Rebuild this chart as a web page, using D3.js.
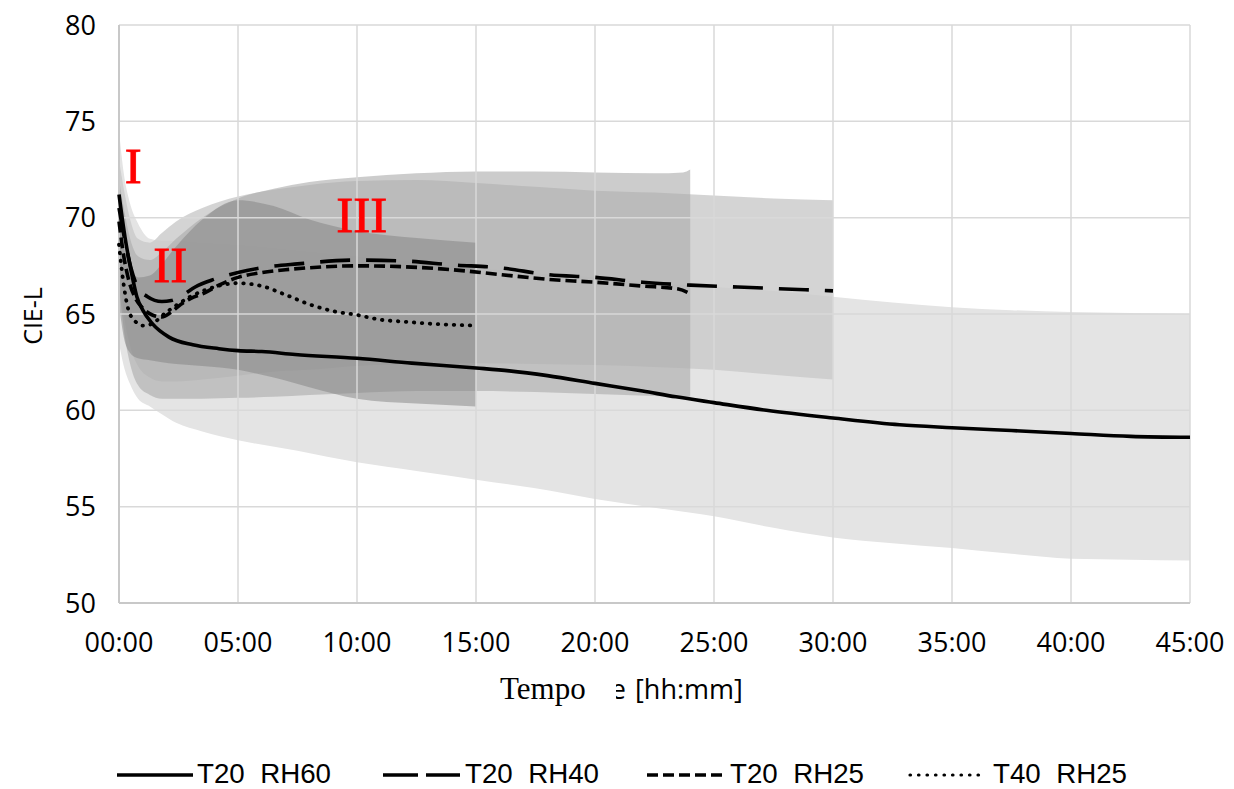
<!DOCTYPE html>
<html>
<head>
<meta charset="utf-8">
<script src="https://cdn.jsdelivr.net/npm/d3@7"></script>
<style>
  html, body { margin: 0; padding: 0; background: #fff; }
  svg { display: block; }
</style>
</head>
<body>
<svg id="chart" width="1234" height="789"></svg>
<script>
// ---- data -------------------------------------------------------------
const seriesNames = ["T20  RH60", "T20  RH40", "T20  RH25", "T40  RH25"];

const xTicks = [0, 5, 10, 15, 20, 25, 30, 35, 40, 45];
const xTickLabels = ["00:00", "05:00", "10:00", "15:00", "20:00", "25:00", "30:00", "35:00", "40:00", "45:00"];
const yTicks = [50, 55, 60, 65, 70, 75, 80];

// mean CIE-L curves: [hours, L]
const meanT20RH60 = [[0,71.2],[0.25,69.0],[0.5,67.3],[0.75,65.9],[1,65.2],[1.4,64.5],[2.1,63.8],[3.1,63.4],[4.2,63.2],[5,63.1],[6,63.05],[7.4,62.9],[10,62.7],[12.3,62.45],[15,62.2],[16.4,62.05],[18,61.8],[20,61.4],[22,61.0],[23.4,60.7],[25,60.4],[27.2,60.0],[30,59.6],[32.8,59.25],[35,59.1],[37.5,58.95],[40,58.8],[42.5,58.65],[45,58.6]];
const meanT20RH40 = [[0,70.5],[0.25,68.8],[0.5,67.4],[0.8,66.35],[1.2,65.9],[1.8,65.65],[2.2,65.7],[2.7,66.0],[3.2,66.4],[4,66.8],[5,67.15],[6,67.4],[7.5,67.6],[10,67.8],[12,67.75],[14,67.55],[16,67.4],[18,67.05],[20,66.9],[22,66.65],[24,66.5],[26,66.4],[28,66.3],[30,66.2]];
const meanT20RH25 = [[0,69.8],[0.2,68.0],[0.4,66.8],[0.7,65.8],[1,65.3],[1.4,64.95],[1.8,64.85],[2.2,65.1],[2.6,65.5],[3,65.8],[3.6,66.1],[4.2,66.5],[5,66.9],[6,67.15],[7,67.3],[8,67.4],[10,67.5],[12,67.45],[14,67.3],[16,67.05],[18,66.8],[20,66.65],[22,66.45],[23.5,66.3],[24,66.05]];
const meanT40RH25 = [[0,68.6],[0.2,66.5],[0.4,65.2],[0.7,64.6],[1,64.4],[1.3,64.45],[2,65.1],[3,65.9],[4,66.4],[5,66.6],[6,66.45],[7,66.0],[8,65.5],[9,65.15],[10,64.95],[11,64.7],[12,64.6],[13,64.5],[15,64.4]];

// spread bands: [hours, lower, upper]
const bandT20RH60 = [[0,63.5,74.5],[0.2,62.3,72.3],[0.45,61.4,70.8],[0.8,60.6,69.7],[1.3,60.2,68.9],[1.8,59.8,68.8],[2.4,59.35,68.8],[3.5,58.9,68.7],[5,58.45,68.6],[7.5,57.9,68.3],[10,57.3,68.0],[12.5,56.85,67.7],[15,56.4,67.4],[17.5,55.95,67.1],[20,55.4,66.9],[22.5,54.95,66.6],[25,54.5,66.4],[27.5,53.9,66.2],[30,53.4,65.9],[32.5,53.1,65.6],[35,52.85,65.35],[37.5,52.55,65.2],[40,52.3,65.1],[42.5,52.25,65.05],[45,52.2,65.0]];
const bandT20RH40 = [[0,67.5,73.0],[0.2,65.0,71.5],[0.45,63.4,70.0],[0.8,62.3,68.9],[1.3,61.7,68.7],[1.8,61.5,69.2],[2.4,61.5,69.8],[3.5,61.6,70.5],[5,61.8,71.1],[6.5,62.0,71.45],[8,62.1,71.7],[10,62.3,71.9],[12.5,62.4,71.95],[15,62.45,71.8],[17.5,62.4,71.6],[20,62.35,71.4],[22.5,62.25,71.3],[25,62.1,71.15],[27.5,61.85,71.0],[30,61.6,70.9]];
const bandT20RH25 = [[0,66.5,72.0],[0.2,64.2,70.5],[0.45,62.5,69.0],[0.8,61.3,68.0],[1.3,60.8,67.8],[1.8,60.6,68.2],[2.4,60.6,68.9],[3.5,60.6,70.0],[5,60.65,71.0],[6.5,60.7,71.5],[8,60.8,71.85],[10,60.9,72.1],[12.5,61.0,72.3],[15,61.0,72.4],[17.5,60.95,72.4],[20,60.85,72.35],[22.5,60.75,72.3],[23.7,60.7,72.35],[24,60.7,72.5]];
const bandT40RH25 = [[0,65.5,70.0],[0.2,63.8,68.5],[0.45,63.0,67.5],[0.8,62.7,66.9],[1.3,62.6,67.0],[1.8,62.5,67.6],[2.4,62.4,68.5],[3.5,62.3,69.9],[5,62.1,70.9],[6.5,61.7,70.6],[8,61.2,69.9],[10,60.6,69.3],[12.5,60.35,68.95],[15,60.2,68.7]];

// ---- layout -----------------------------------------------------------
const svg = d3.select("#chart");
const x = d3.scaleLinear().domain([0, 45]).range([119, 1190]);
const y = d3.scaleLinear().domain([50, 80]).range([603, 25]);

const bands = [
  { data: bandT20RH60, fill: "rgb(228,228,228)", opacity: 1 },
  { data: bandT20RH40, fill: "rgb(201,201,201)", opacity: 0.8 },
  { data: bandT20RH25, fill: "rgb(170,170,170)", opacity: 0.6 },
  { data: bandT40RH25, fill: "rgb(130,130,130)", opacity: 0.5 }
];

const area = d3.area()
  .x(d => x(d[0]))
  .y0(d => y(d[1]))
  .y1(d => y(d[2]))
  .curve(d3.curveMonotoneX);

svg.append("g").selectAll("path")
  .data(bands)
  .join("path")
  .attr("d", d => area(d.data))
  .attr("fill", d => d.fill)
  .attr("fill-opacity", d => d.opacity);

// gridlines sit on top of the shaded spreads
const grid = svg.append("g").attr("stroke", "#d9d9d9").attr("stroke-width", 1.5);
grid.selectAll("line.h").data(yTicks).join("line")
  .attr("x1", x(0)).attr("x2", x(45))
  .attr("y1", d => y(d)).attr("y2", d => y(d));
grid.selectAll("line.v").data(xTicks).join("line")
  .attr("y1", y(50)).attr("y2", y(80))
  .attr("x1", d => x(d)).attr("x2", d => x(d));

// axis lines
svg.append("line").attr("x1", x(0)).attr("x2", x(0)).attr("y1", y(50)).attr("y2", y(80))
  .attr("stroke", "#c8c8c8").attr("stroke-width", 2);
svg.append("line").attr("x1", x(0)).attr("x2", x(45)).attr("y1", y(50)).attr("y2", y(50))
  .attr("stroke", "#c8c8c8").attr("stroke-width", 2);

// tick labels
const tickFont = "'Open Sans', sans-serif";
svg.append("g").selectAll("text").data(yTicks).join("text")
  .attr("x", 96).attr("y", d => y(d)).attr("dy", "0.36em")
  .attr("text-anchor", "end")
  .attr("font-family", tickFont).attr("font-size", 27).attr("fill", "#000")
  .text(d => d);

svg.append("g").selectAll("text").data(xTicks).join("text")
  .attr("x", d => x(d)).attr("y", 652)
  .attr("text-anchor", "middle")
  .attr("font-family", tickFont).attr("font-size", 27).attr("fill", "#000")
  .text((d, i) => xTickLabels[i]);

// axis titles
svg.append("text")
  .attr("transform", "translate(42,316) rotate(-90)")
  .attr("text-anchor", "middle")
  .attr("font-family", tickFont).attr("font-size", 25)
  .text("CIE-L");

svg.append("text")
  .attr("x", 500).attr("y", 699)
  .attr("font-family", "'Liberation Serif', 'Times New Roman', serif").attr("font-size", 31)
  .text("Tempo");

svg.append("defs").append("clipPath").attr("id", "eClip")
  .append("rect").attr("x", 616).attr("y", 660).attr("width", 20).attr("height", 50);
svg.append("text")
  .attr("x", 626).attr("y", 699).attr("text-anchor", "end")
  .attr("clip-path", "url(#eClip)")
  .attr("font-family", tickFont).attr("font-size", 27)
  .text("e");
svg.append("text")
  .attr("x", 635).attr("y", 699)
  .attr("font-family", tickFont).attr("font-size", 27)
  .text("[hh:mm]");

// mean curves
const line = d3.line().x(d => x(d[0])).y(d => y(d[1])).curve(d3.curveMonotoneX);
const styles = [
  { dash: null, cap: "butt" },
  { dash: "30,16", cap: "butt" },
  { dash: "11,5", cap: "butt" },
  { dash: "0.5,7.5", cap: "round" }
];
const means = [meanT20RH60, meanT20RH40, meanT20RH25, meanT40RH25];

svg.append("g").selectAll("path").data(means).join("path")
  .attr("d", d => line(d))
  .attr("fill", "none")
  .attr("stroke", "#000")
  .attr("stroke-width", (d, i) => i === 3 ? 3.8 : 3.6)
  .attr("stroke-linecap", (d, i) => styles[i].cap)
  .attr("stroke-linejoin", "round")
  .attr("stroke-dasharray", (d, i) => styles[i].dash);

// phase markers (baseline placed at the given L value)
const serif = "'Liberation Serif', 'Times New Roman', serif";
const phases = [
  { label: "I", t: 0.6, v: 71.8 },
  { label: "II", t: 2.15, v: 66.65 },
  { label: "III", t: 10.2, v: 69.25 }
];
svg.append("g").selectAll("text").data(phases).join("text")
  .attr("x", d => x(d.t)).attr("y", d => y(d.v))
  .attr("text-anchor", "middle")
  .attr("font-family", serif).attr("font-size", 51)
  .attr("fill", "#ff0000")
  .attr("stroke", "#ff0000").attr("stroke-width", 0.8)
  .text(d => d.label);

// legend
const legendItems = [
  { x0: 117, x1: 193, tx: 197 },
  { x0: 383, x1: 460, tx: 465 },
  { x0: 647, x1: 727, tx: 730 },
  { x0: 910, x1: 982, tx: 993 }
];
const legendDash = [null, "35,8", "11,5", "0.5,8"];
const lg = svg.append("g");
legendItems.forEach((it, i) => {
  lg.append("line")
    .attr("x1", it.x0).attr("x2", it.x1).attr("y1", 775).attr("y2", 775)
    .attr("stroke", "#000").attr("stroke-width", i === 3 ? 3.2 : 3.4)
    .attr("stroke-linecap", i === 3 ? "round" : "butt")
    .attr("stroke-dasharray", legendDash[i]);
  lg.append("text")
    .attr("transform", `translate(${it.tx},783) scale(1,1.14)`)
    .attr("font-family", "'Liberation Sans Narrow', 'Liberation Sans', sans-serif")
    .attr("font-size", 25)
    .attr("textLength", 134)
    .attr("lengthAdjust", "spacingAndGlyphs")
    .style("white-space", "pre")
    .text(seriesNames[i]);
});
</script>
</body>
</html>
